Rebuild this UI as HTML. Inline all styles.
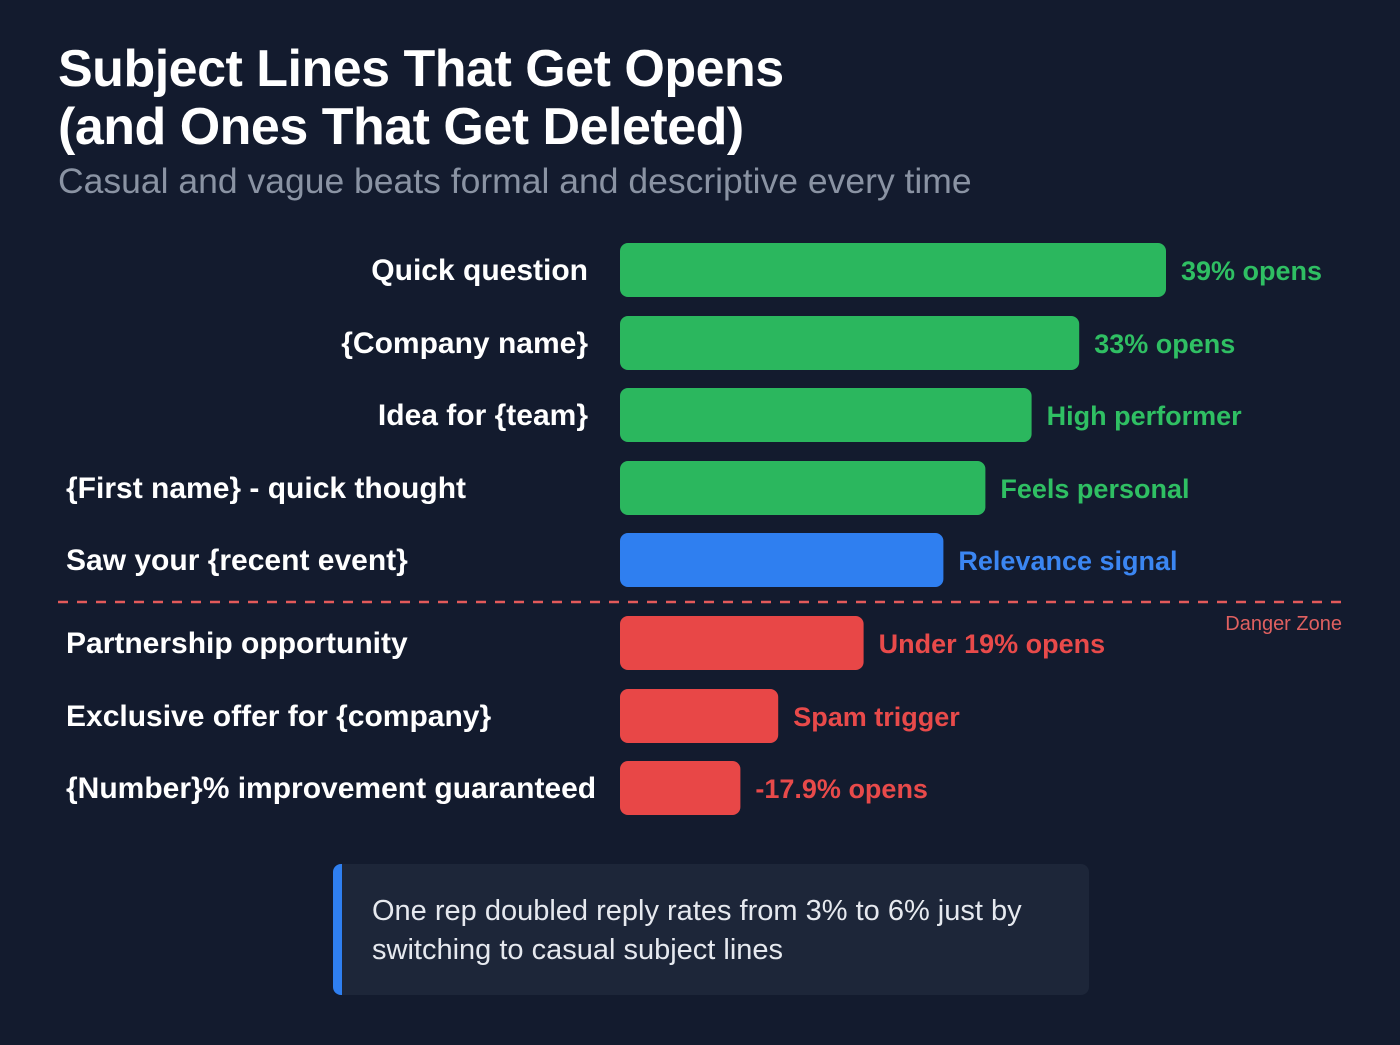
<!DOCTYPE html>
<html><head><meta charset="utf-8"><style>
body{margin:0;width:1400px;height:1045px;background:#131b2e;font-family:"Liberation Sans",sans-serif;overflow:hidden;position:relative}
.t{position:absolute;left:58px;top:40px;color:#fff;font-size:52px;font-weight:bold;line-height:58px;letter-spacing:-0.5px}
.s{position:absolute;left:58px;top:161px;color:#8a93a3;font-size:35.5px}
.cb{position:absolute;left:333px;top:864px;width:747px;height:131px;background:#1d2639;border-left:9px solid #2f7ff0;border-radius:8px}
.cb div{position:absolute;left:30px;top:28px;color:#e6e9ef;font-size:29px;line-height:39px}
</style></head><body>
<div class="t">Subject Lines That Get Opens<br>(and Ones That Get Deleted)</div>
<div class="s">Casual and vague beats formal and descriptive every time</div>
<svg id="c" width="1400" height="1045" style="position:absolute;left:0;top:0"></svg>
<div class="cb"><div>One rep doubled reply rates from 3% to 6% just by<br>switching to casual subject lines</div></div>
<script>
const categories=["Quick question","{Company name}","Idea for {team}","{First name} - quick thought","Saw your {recent event}","Partnership opportunity","Exclusive offer for {company}","{Number}% improvement guaranteed"];
const values=[39,32.8,29.4,26.1,23.1,17.4,11.3,8.6];
const annotations=["39% opens","33% opens","High performer","Feels personal","Relevance signal","Under 19% opens","Spam trigger","-17.9% opens"];
const groups=["good","good","good","good","blue","bad","bad","bad"];
const rightAlign=[true,true,true,false,false,false,false,false];
const colors={good:"#2bb75e",blue:"#2f7ff0",bad:"#e84747"};
const textColors={good:"#2fbf63",blue:"#3b86f2",bad:"#e84a4a"};
const ns="http://www.w3.org/2000/svg";
const svg=document.getElementById('c');
const x0=620,scale=14;
const rowY=[270,343,415,488,560,643,716,788];
function xs(v){return v*scale;}
function mk(t,a){const e=document.createElementNS(ns,t);for(const k in a)e.setAttribute(k,a[k]);svg.appendChild(e);return e;}
categories.forEach((c,i)=>{
 const y=rowY[i],g=groups[i];
 const r=mk('rect',{x:x0,y:y-27,width:xs(values[i]),height:54,rx:8,fill:colors[g]});
 
 
 const l=mk('text',{x:rightAlign[i]?588:66,y:y+10,'text-anchor':rightAlign[i]?'end':'start',fill:'#fff','font-size':30,'font-weight':'bold','font-family':'Liberation Sans, sans-serif'});
 l.textContent=c;
 
 
 const a=mk('text',{x:x0+xs(values[i])+15,y:y+10,fill:textColors[g],'font-size':27,'font-weight':'bold','font-family':'Liberation Sans, sans-serif'});
 a.textContent=annotations[i];
 
 
});
const d=mk('line',{x1:58,x2:1342,y1:602,y2:602,stroke:'#e35a5a','stroke-width':2.5,'stroke-dasharray':'10 9'});


const dz=mk('text',{x:1342,y:630,'text-anchor':'end',fill:'#e06060','font-size':20,'font-family':'Liberation Sans, sans-serif'});
dz.textContent='Danger Zone';


</script>
</body></html>
